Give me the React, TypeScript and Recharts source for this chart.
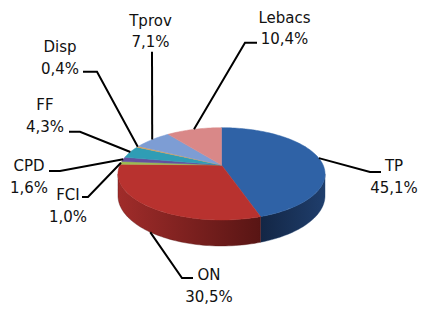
import { Pie, PieChart } from 'recharts';

const categories = ['TP', 'ON', 'FCI', 'CPD', 'FF', 'Disp', 'Tprov', 'Lebacs'];
const shares = [45.1, 30.5, 1.0, 1.6, 4.3, 0.4, 7.1, 10.4];

const chartData = categories.map((name, i) => ({ name, value: shares[i] }));

// top face colours, then the front wall gradient (left -> right)
const topColors = ['#2f62a6', '#b8322f', '#9bbb52', '#64509e', '#2f9db5', '#e0a050', '#7d9dd4', '#d98888'];
const wallColors = [
  ['#132645', '#1f3e6c'],
  ['#a02c2a', '#581514'],
  ['#6f8a3a', '#6f8a3a'],
  ['#463870', '#463870'],
  ['#207080', '#207080'],
  ['#a87030', '#a87030'],
  ['#5a72a0', '#5a72a0'],
  ['#a86262', '#a86262'],
];

// label placement: text centre, first baseline, leader line bends
const labelLayout = [
  { x: 394, y: 171, bend: [[370, 172], [381, 172]] },
  { x: 209, y: 280, bend: [[182, 278], [193, 278]] },
  { x: 68, y: 200, bend: [[88, 197], [82, 197]] },
  { x: 29, y: 171, bend: [[60, 171], [49, 171]] },
  { x: 45, y: 110, bend: [[80, 131.7], [69, 131.7]] },
  { x: 60, y: 52, bend: [[97, 71.7], [83, 71.7]] },
  { x: 150.5, y: 25.7, bend: [[152, 51.7]] },
  { x: 284.5, y: 22.7, bend: [[245, 42.7], [257, 42.7]] },
];

const PERSP = 0.1918;
const FLAT = 0.4375;
const DEPTH = 21;
const FRONT_LO = -180 + (Math.asin(PERSP) * 180) / Math.PI;
const FRONT_HI = -(Math.asin(PERSP) * 180) / Math.PI;

function project(cx: number, cy: number, r: number, deg: number, drop = 0) {
  const t = (deg * Math.PI) / 180;
  const u = Math.cos(t);
  const v = Math.sin(t);
  const w = 1 + PERSP * v;
  return [cx + (r * u) / w, cy - (r * FLAT * v) / w + drop / w];
}

function arc(cx: number, cy: number, r: number, from: number, to: number, drop = 0) {
  const n = Math.max(2, Math.ceil(Math.abs(to - from) / 1.5));
  const pts: number[][] = [];
  for (let k = 0; k <= n; k++) {
    pts.push(project(cx, cy, r, from + ((to - from) * k) / n, drop));
  }
  return pts;
}

const fmt = (p: number[][]) => p.map((q) => `${q[0].toFixed(2)},${q[1].toFixed(2)}`).join(' L ');

const renderSlice = (props: any) => {
  const { cx, cy, outerRadius, startAngle, endAngle, index, value } = props;
  const r = outerRadius;
  const top = `M ${cx},${cy} L ${fmt(arc(cx, cy, r, startAngle, endAngle))} Z`;

  const lo = Math.max(Math.min(startAngle, endAngle), FRONT_LO);
  const hi = Math.min(Math.max(startAngle, endAngle), FRONT_HI);
  let wall = '';
  if (hi > lo) {
    const upper = arc(cx, cy, r, hi, lo);
    const lower = arc(cx, cy, r, lo, hi, DEPTH);
    wall = `M ${fmt(upper)} L ${fmt(lower)} Z`;
  }

  const mid = (startAngle + endAngle) / 2;
  const front = Math.sin((mid * Math.PI) / 180) < -PERSP;
  const anchor = project(cx, cy, r, mid, front ? DEPTH : 0);
  const layout = labelLayout[index];
  const line = [anchor, ...layout.bend].map((q) => `${q[0]},${q[1]}`).join(' ');
  const pct = `${Number(value).toFixed(1).replace('.', ',')}%`;

  return (
    <g>
      <defs>
        <linearGradient id={`wall-${index}`} x1="0" y1="0" x2="1" y2="0">
          <stop offset="0%" stopColor={wallColors[index][0]} />
          <stop offset="100%" stopColor={wallColors[index][1]} />
        </linearGradient>
      </defs>
      {wall && <path d={wall} fill={`url(#wall-${index})`} stroke={wallColors[index][1]} strokeWidth={0.4} />}
      <path d={top} fill={topColors[index]} stroke={topColors[index]} strokeWidth={0.5} />
      <polyline points={line} fill="none" stroke="#000" strokeWidth={2} />
      <text
        x={layout.x}
        y={layout.y}
        textAnchor="middle"
        fill="#111"
        fontFamily="'DejaVu Sans', sans-serif"
        fontSize={15}
      >
        {categories[index]}
      </text>
      <text
        x={layout.x}
        y={layout.y + 21.6}
        textAnchor="middle"
        fill="#111"
        fontFamily="'DejaVu Sans', sans-serif"
        fontSize={15}
      >
        {pct}
      </text>
    </g>
  );
};

export default function App() {
  return (
    <div style={{ position: 'absolute', left: 0, top: 0, width: 421, height: 309, background: '#fff' }}>
      <PieChart width={421} height={309} margin={{ top: 0, right: 0, bottom: 0, left: 0 }}>
        <Pie
          data={chartData}
          dataKey="value"
          nameKey="name"
          cx={221.5}
          cy={165}
          outerRadius={101.6}
          startAngle={90}
          endAngle={-270}
          fill="none"
          stroke="none"
          label={renderSlice}
          labelLine={false}
          isAnimationActive={false}
        />
      </PieChart>
    </div>
  );
}
